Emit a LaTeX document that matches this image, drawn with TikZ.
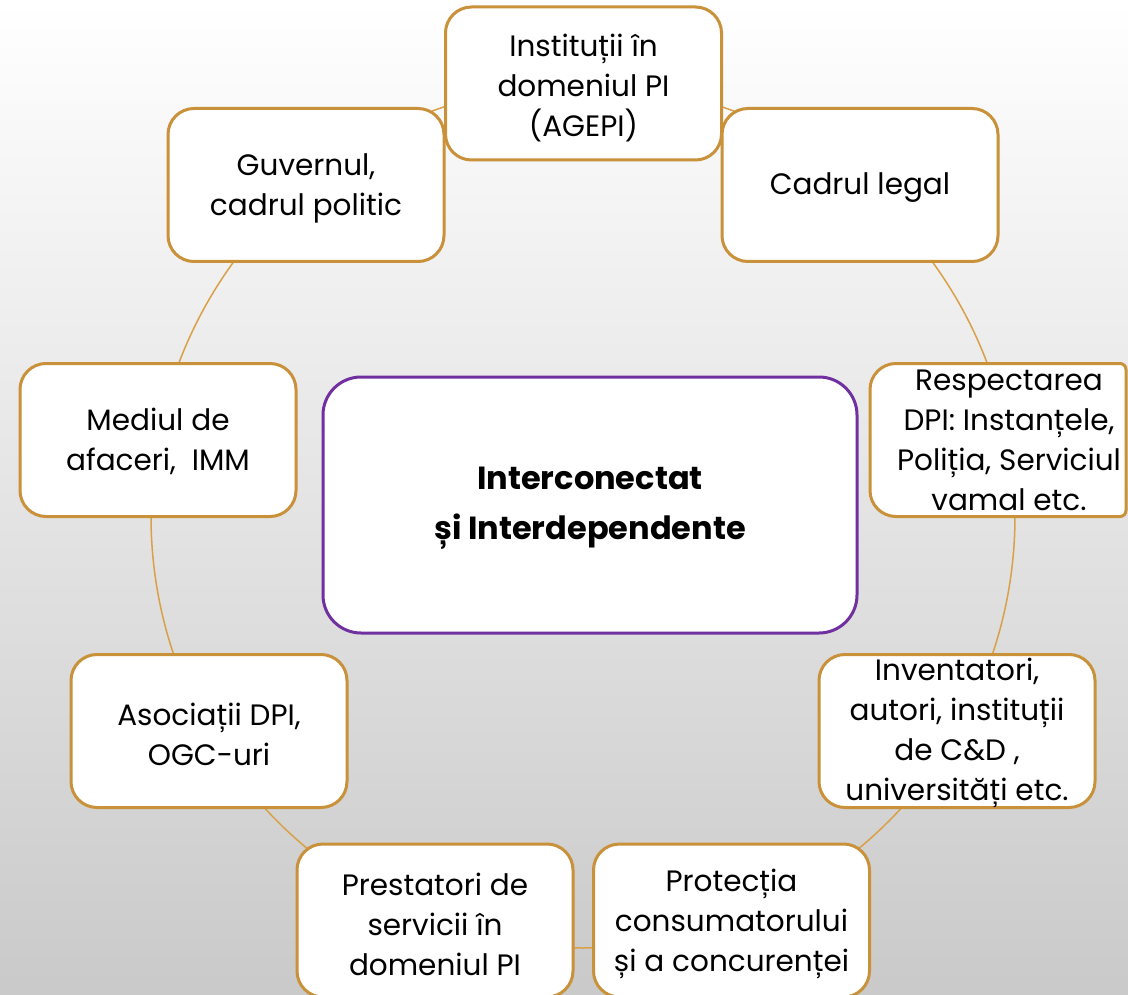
\documentclass[tikz,border=0pt]{standalone}
\usepackage{fontspec}
\setmainfont{Poppins}
\definecolor{gold}{HTML}{C8913A}
\definecolor{goldline}{HTML}{D9A048}
\definecolor{violetb}{HTML}{7030A0}
\begin{document}
\begin{tikzpicture}[x=1pt,y=-1pt,
  boxtxt/.style={align=center, font=\fontsize{29.5}{40}\selectfont, inner sep=0pt},
  box/.style={draw=gold, line width=3pt, fill=white, rounded corners=26pt,
    minimum width=276pt, minimum height=153pt, inner sep=0pt},
  frame/.style={minimum width=256pt, minimum height=153pt, inner sep=0pt, outer sep=0pt},
  centerbox/.style={draw=violetb, line width=3pt, fill=white, rounded corners=38pt,
    minimum width=534pt, minimum height=256pt, inner sep=0pt},
  centertxt/.style={align=center, inner sep=0pt, font=\bfseries\fontsize{32}{50}\selectfont},
  ring/.style={draw=goldline, line width=1.5pt}
]
\shade[top color=white, bottom color=gray!42] (0,0) rectangle (1128,995);
\useasboundingbox (0,0) rectangle (1128,995);
\coordinate (ringc) at (583,516);
\draw[ring] (ringc) circle [radius=432pt];

\node[box] (inst) at (583.5,83.5) {};
\node[boxtxt] (instt) at ([yshift=-5pt]inst.center) {Instituții în\\domeniul PI\\(AGEPI)};
\node[box] (cadru) at (860,185) {};
\node[boxtxt] (cadrut) at ([yshift=-3pt]cadru.center) {Cadrul legal};
\node[box] (guv) at (306,185) {};
\node[boxtxt] (guvt) at ([yshift=-3pt]guv.center) {Guvernul,\\cadrul politic};
\node[box] (med) at (158,440) {};
\node[boxtxt] (medt) at ([yshift=-1pt]med.center) {Mediul de\\afaceri,\ \ IMM};
\node[frame] (resp) at (998,440) {};
\draw[gold, line width=3pt, fill=white] (resp.north) [rounded corners=6pt] -- (resp.north east) -- (resp.south east) -- (resp.south) [rounded corners=26pt] -- (resp.south west) -- (resp.north west) -- cycle;
\node[boxtxt] (respt) at (1009,440) {Respectarea\\DPI: Instanțele,\\Poliția, Serviciul\\vamal etc.};
\node[box] (asoc) at (209,731) {};
\node[boxtxt] (asoct) at ([yshift=-3pt]asoc.center) {Asociații DPI,\\OGC-uri};
\node[box] (inv) at (957,731) {};
\node[boxtxt] (invt) at ([yshift=-2pt]inv.center) {Inventatori,\\autori, instituții\\de C\&D ,\\universități etc.};
\node[box] (prest) at (435,920.5) {};
\node[boxtxt] (prestt) at ([yshift=-4pt]prest.center) {Prestatori de\\servicii în\\domeniul PI};
\node[box] (prot) at (731.5,920.5) {};
\node[boxtxt] (prott) at ([yshift=-3pt]prot.center) {Protecția\\consumatorului\\și a concurenței};
\node[centerbox] (mid) at (590,505) {};
\node[centertxt] (midt) at ([yshift=-3pt]mid.center) {Interconectat\\și Interdependente};
\end{tikzpicture}
\end{document}
